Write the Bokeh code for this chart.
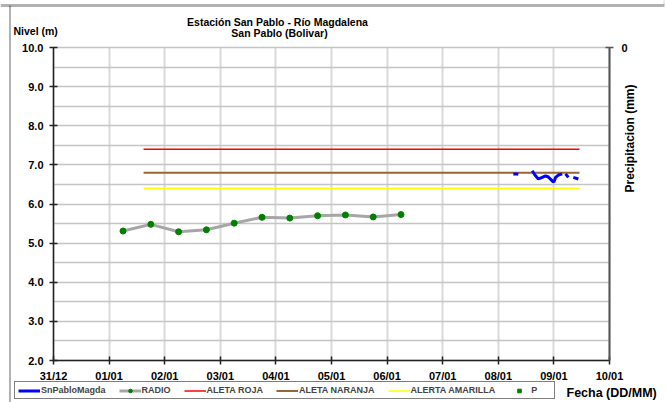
import math
from bokeh.plotting import figure
from bokeh.models import (Range1d, LinearAxis, FixedTicker, Label, Legend, LegendItem,
                          PolyAnnotation, NumeralTickFormatter, Grid)
from bokeh.embed import file_html
from bokeh.resources import INLINE

nan = float("nan")

# ---- data ----
day_ticks = [0, 1, 2, 3, 4, 5, 6, 7, 8, 9, 10]
day_labels = ["31/12", "01/01", "02/01", "03/01", "04/01", "05/01",
              "06/01", "07/01", "08/01", "09/01", "10/01"]
level_ticks = [2, 3, 4, 5, 6, 7, 8, 9, 10]
level_grid = [2, 2.5, 3, 3.5, 4, 4.5, 5, 5.5, 6, 6.5, 7, 7.5, 8, 8.5, 9, 9.5, 10]
precip_ticks = [0]

radio_days = [1.25, 1.75, 2.25, 2.75, 3.25, 3.75, 4.25, 4.75, 5.25, 5.75, 6.25]
radio_level = [5.31, 5.48, 5.29, 5.34, 5.51, 5.66, 5.64, 5.70, 5.72, 5.67, 5.73]

sn_days = [8.27, 8.31, 8.36, nan, 8.61, 8.67, 8.72, 8.79, 8.85, 8.90, 8.97, 9.00,
           9.03, 9.08, 9.15, nan, 9.21, 9.26, nan, 9.35, 9.44]
sn_level = [6.76, 6.77, 6.76, nan, 6.85, 6.72, 6.64, 6.68, 6.72, 6.69, 6.59, 6.56,
            6.68, 6.74, 6.77, nan, 6.77, 6.68, nan, 6.68, 6.64]

alert_days = [1.62, 9.46]
alerta_roja = [7.4, 7.4]
alerta_naranja = [6.8, 6.8]
alerta_amarilla = [6.4, 6.4]

# precipitation series: no data in this period
p_days = [nan]
p_vals = [nan]

FONT = "Liberation Sans"

# ---- geometry (pixels) ----
W, H = 668, 402
PL, PT = 53, 47          # plot area left / top inside the canvas
PXD, PXL = 55.6, 39.125  # pixels per day / per metre
X0, X1 = day_ticks[0], day_ticks[-1]
Y0, Y1 = level_ticks[0], level_ticks[-1]


def fx(px):  # canvas x pixel -> day
    return X0 + (px - PL) / PXD


def fy(py):  # canvas y pixel -> metres
    return Y1 - (py - PT) / PXL


p = figure(width=W, height=H, output_backend="svg", toolbar_location=None, title=None,
           x_axis_type=None, y_axis_type=None,
           x_range=Range1d(fx(0), fx(W)), y_range=Range1d(fy(H), fy(0)),
           min_border=0, min_border_left=0, min_border_right=0,
           min_border_top=0, min_border_bottom=0)
p.outline_line_color = None
p.background_fill_color = "white"
p.border_fill_color = "white"
# precipitation scale (0 at top of the level axis, growing downwards)
p.extra_y_ranges = {"precip": Range1d(start=Y1 - fy(H), end=Y1 - fy(0))}

# ---- grids ----
has_cb = "cross_bounds" in Grid.properties()
if has_cb:
    gx = Grid(dimension=0, ticker=FixedTicker(ticks=day_ticks), cross_bounds=(Y0, Y1),
              bounds=(X0, X1))
    gy = Grid(dimension=1, ticker=FixedTicker(ticks=level_grid), cross_bounds=(X0, X1),
              bounds=(Y0, Y1))
    gx.grid_line_color = "#d9d9d9"
    gx.grid_line_width = 2
    gy.grid_line_color = "#c4c4c4"
    gy.grid_line_width = 1.5
    p.add_layout(gx)
    p.add_layout(gy)
else:
    p.segment(x0=day_ticks, y0=[Y0] * len(day_ticks), x1=day_ticks, y1=[Y1] * len(day_ticks),
              line_color="#d9d9d9", line_width=2)
    p.segment(x0=[X0] * len(level_grid), y0=level_grid, x1=[X1] * len(level_grid), y1=level_grid,
              line_color="#c4c4c4", line_width=1.5)


def style_axis(ax, color, width, standoff):
    ax.axis_line_color = color
    ax.axis_line_width = width
    ax.major_tick_line_color = color
    ax.major_tick_line_width = 1.5
    ax.major_tick_in = 4
    ax.major_tick_out = 4
    ax.minor_tick_line_color = None
    ax.major_label_text_font = FONT
    ax.major_label_text_font_style = "bold"
    ax.major_label_text_font_size = "11px"
    ax.major_label_text_color = "black"
    ax.major_label_standoff = standoff


xax = LinearAxis(ticker=FixedTicker(ticks=day_ticks), fixed_location=Y0, bounds=(X0, X1))
xax.major_label_overrides = {t: l for t, l in zip(day_ticks, day_labels)}
style_axis(xax, "#222222", 1.5, 5)
p.add_layout(xax, "below")

yax = LinearAxis(ticker=FixedTicker(ticks=level_ticks), fixed_location=X0, bounds=(Y0, Y1),
                 formatter=NumeralTickFormatter(format="0.0"))
style_axis(yax, "#222222", 1.5, 6)
p.add_layout(yax, "left")

rax = LinearAxis(y_range_name="precip", ticker=FixedTicker(ticks=precip_ticks),
                 fixed_location=X1, bounds=(0, Y1 - Y0))
style_axis(rax, "#555555", 2, 8)
p.add_layout(rax, "right")

# ---- series ----
r_roja = p.line(alert_days, alerta_roja, line_color="#FF0000", line_width=1.5)
r_naranja = p.line(alert_days, alerta_naranja, line_color="#996633", line_width=2)
r_amarilla = p.line(alert_days, alerta_amarilla, line_color="#FFFF00", line_width=1.5)
r_radio_l = p.line(radio_days, radio_level, line_color="#A6A6A6", line_width=3)
r_radio_m = p.scatter(radio_days, radio_level, marker="circle", size=6,
                      fill_color="#008000", line_color="#008000")
r_sn = p.line(sn_days, sn_level, line_color="#0000FF", line_width=3)
r_p = p.scatter(p_days, p_vals, marker="square", size=3,
                fill_color="#008000", line_color="#008000")

legend = Legend(items=[
    LegendItem(label="SnPabloMagda", renderers=[r_sn]),
    LegendItem(label="RADIO", renderers=[r_radio_l, r_radio_m]),
    LegendItem(label="ALETA ROJA", renderers=[r_roja]),
    LegendItem(label="ALETA NARANJA", renderers=[r_naranja]),
    LegendItem(label="ALERTA AMARILLA", renderers=[r_amarilla]),
    LegendItem(label="P", renderers=[r_p]),
], orientation="horizontal", location=(14, 3))
legend.label_text_font = FONT
legend.label_text_font_style = "bold"
legend.label_text_font_size = "9px"
legend.glyph_width = 22
legend.glyph_height = 9
legend.label_height = 9
legend.label_standoff = 1
legend.spacing = 13
legend.padding = 3
legend.margin = 0
legend.border_line_color = "black"
legend.border_line_width = 1
legend.background_fill_color = "white"
legend.background_fill_alpha = 1
p.add_layout(legend)


# ---- texts ----
def lab(px, py, text, size, align="left", angle=0.0):
    p.add_layout(Label(x=fx(px), y=fy(py), text=text, text_font=FONT, text_font_style="bold",
                       text_font_size=size, text_align=align, text_baseline="middle",
                       angle=angle, text_color="black"))


lab(277, 21, "Estación San Pablo - Río Magdalena", "10.5px", "center")
lab(279, 32, "San Pablo (Bolivar)", "10.5px", "center")
lab(13, 30, "Nivel (m)", "10.5px")
lab(566, 392, "Fecha (DD/MM)", "12.5px")
lab(629, 138, "Precipitacion (mm)", "12px", "center", math.pi / 2)

# ---- outer frame edges ----
p.add_layout(PolyAnnotation(xs=[fx(0), fx(664)], ys=[fy(5), fy(5)],
                            fill_color=None, fill_alpha=0, line_color="black", line_width=3))
p.add_layout(PolyAnnotation(xs=[fx(9.5), fx(9.5)], ys=[fy(5), fy(H + 5)],
                            fill_color=None, fill_alpha=0, line_color="black", line_width=2))
p.add_layout(PolyAnnotation(xs=[fx(663.5), fx(663.5)], ys=[fy(-2), fy(4)],
                            fill_color=None, fill_alpha=0, line_color="#808080", line_width=1))

open("out.html", "w").write(file_html(p, INLINE))
